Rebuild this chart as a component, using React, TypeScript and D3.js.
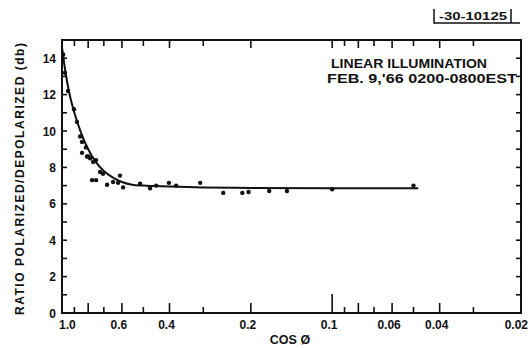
import { useEffect, useRef } from "react";
import * as d3 from "d3";

// measured points (cos phi, ratio in db)
const pointCos = [
  0.99, 0.975, 0.95, 0.903, 0.88, 0.857, 0.843, 0.843, 0.815, 0.808, 0.8, 0.787,
  0.767, 0.748, 0.723, 0.705, 0.774, 0.748, 0.681, 0.647, 0.62, 0.61, 0.594,
  0.514, 0.472, 0.448, 0.402, 0.378, 0.308, 0.253, 0.215, 0.204, 0.171, 0.147,
  0.1, 0.05,
];
const pointRatio = [
  14.2, 13.2, 12.2, 11.2, 10.5, 9.7, 9.4, 8.8, 9.1, 8.6, 8.6, 8.5,
  8.3, 8.4, 7.75, 7.65, 7.3, 7.3, 7.05, 7.2, 7.15, 7.55, 6.9,
  7.1, 6.85, 7.0, 7.15, 7.0, 7.15, 6.6, 6.6, 6.65, 6.7, 6.7,
  6.8, 7.0,
];

// fitted curve drawn through the points
const curveCos = [1.0, 0.97, 0.94, 0.9, 0.85, 0.8, 0.75, 0.7, 0.65, 0.6, 0.55, 0.5, 0.4, 0.3, 0.2, 0.1, 0.048];
const curveRatio = [14.6, 13.2, 12.1, 11.0, 9.9, 9.0, 8.3, 7.8, 7.45, 7.2, 7.05, 7.0, 6.95, 6.9, 6.87, 6.85, 6.85];

const yTickLabels = [0, 2, 4, 6, 8, 10, 12, 14];
const yMinorTicks = d3.range(0, 16);
const xTickLabels = ["1.0", "0.6", "0.4", "0.2", "0.1", "0.06", "0.04", "0.02"];
const xLabelValues = [1.0, 0.6, 0.4, 0.2, 0.1, 0.06, 0.04, 0.02];
const xTickValues = [0.9, 0.8, 0.7, 0.6, 0.5, 0.4, 0.3, 0.2, 0.1, 0.09, 0.08, 0.07, 0.06, 0.05, 0.04, 0.03];
const xLongTicks = [0.8, 0.6, 0.4, 0.2, 0.08, 0.06, 0.04];

const FONT = "'Liberation Sans', Arial, sans-serif";

export default function App() {
  const svgRef = useRef<SVGSVGElement>(null);
  const width = 530;
  const height = 348;

  useEffect(() => {
    const svg = d3.select(svgRef.current);
    svg.selectAll("*").remove();

    const left = 62;
    const right = 521;
    const top = 40;
    const bottom = 313;

    const x = d3.scaleLog().domain([1, 0.02]).range([left, right]);
    const y = d3.scaleLinear().domain([0, 15]).range([bottom, top]);

    svg.append("rect").attr("width", width).attr("height", height).attr("fill", "#fff");

    // frame
    svg
      .append("rect")
      .attr("x", left)
      .attr("y", top)
      .attr("width", right - left)
      .attr("height", bottom - top)
      .attr("fill", "none")
      .attr("stroke", "#111")
      .attr("stroke-width", 2);

    // y ticks, both sides, pointing in
    yMinorTicks.forEach((v) => {
      if (v === 0 || v === 15) return;
      svg.append("line")
        .attr("x1", left).attr("x2", left + 5)
        .attr("y1", y(v)).attr("y2", y(v))
        .attr("stroke", "#111").attr("stroke-width", 1.6);
      svg.append("line")
        .attr("x1", right).attr("x2", right - 5)
        .attr("y1", y(v)).attr("y2", y(v))
        .attr("stroke", "#111").attr("stroke-width", 1.6);
    });

    // x ticks, bottom and top
    xTickValues.forEach((v) => {
      const len = v === 0.1 ? 19 : xLongTicks.includes(v) ? 10 : 6;
      svg.append("line")
        .attr("x1", x(v)).attr("x2", x(v))
        .attr("y1", bottom).attr("y2", bottom - len)
        .attr("stroke", "#111").attr("stroke-width", 1.6);
      svg.append("line")
        .attr("x1", x(v)).attr("x2", x(v))
        .attr("y1", top).attr("y2", top + (xLongTicks.includes(v) || v === 0.1 ? 8 : 6))
        .attr("stroke", "#111").attr("stroke-width", 1.6);
    });

    // tick labels
    svg.append("g")
      .selectAll("text")
      .data(yTickLabels)
      .join("text")
      .attr("x", 56)
      .attr("y", (d) => y(d) + 4.5)
      .attr("text-anchor", "end")
      .attr("font-family", FONT)
      .attr("font-weight", "bold")
      .attr("font-size", 12)
      .attr("fill", "#111")
      .text((d) => d);

    svg.append("g")
      .selectAll("text")
      .data(xLabelValues)
      .join("text")
      .attr("x", (d) => (d === 1 ? x(d) - 3 : d === 0.02 ? 528 : x(d) - 3))
      .attr("y", 329)
      .attr("text-anchor", (d) => (d === 1 ? "start" : d === 0.02 ? "end" : "middle"))
      .attr("font-family", FONT)
      .attr("font-weight", "bold")
      .attr("font-size", 12)
      .attr("fill", "#111")
      .text((d, i) => xTickLabels[i]);

    // fitted curve
    const curve = curveCos.map((c, i) => [c, curveRatio[i]] as [number, number]);
    svg.append("path")
      .datum(curve)
      .attr("fill", "none")
      .attr("stroke", "#111")
      .attr("stroke-width", 2)
      .attr("d", d3.line<[number, number]>()
        .x((d) => x(d[0]))
        .y((d) => y(d[1]))
        .curve(d3.curveMonotoneX));

    // measured points
    svg.append("g")
      .selectAll("circle")
      .data(pointCos.map((c, i) => [c, pointRatio[i]]))
      .join("circle")
      .attr("cx", (d) => x(d[0]))
      .attr("cy", (d) => y(d[1]))
      .attr("r", 2.2)
      .attr("fill", "#111");

    // axis titles
    svg.append("text")
      .attr("transform", "translate(24,179) rotate(-90)")
      .attr("text-anchor", "middle")
      .attr("font-family", FONT)
      .attr("font-weight", "bold")
      .attr("font-size", 12)
      .attr("textLength", 272)
      .attr("lengthAdjust", "spacing")
      .attr("fill", "#111")
      .text("RATIO POLARIZED/DEPOLARIZED (db)");

    svg.append("text")
      .attr("x", 290)
      .attr("y", 344)
      .attr("text-anchor", "middle")
      .attr("font-family", FONT)
      .attr("font-weight", "bold")
      .attr("font-size", 12.5)
      .attr("fill", "#111")
      .text("COS  Ø");

    // annotation
    svg.append("text")
      .attr("x", 331)
      .attr("y", 68)
      .attr("font-family", FONT)
      .attr("font-weight", "bold")
      .attr("font-size", 12)
      .attr("textLength", 156)
      .attr("lengthAdjust", "spacingAndGlyphs")
      .attr("fill", "#111")
      .text("LINEAR ILLUMINATION");

    svg.append("text")
      .attr("x", 327)
      .attr("y", 83)
      .attr("font-family", FONT)
      .attr("font-weight", "bold")
      .attr("font-size", 12)
      .attr("textLength", 190)
      .attr("lengthAdjust", "spacingAndGlyphs")
      .attr("fill", "#111")
      .text("FEB. 9,'66 0200-0800EST");

    // figure number box
    svg.append("path")
      .attr("d", "M434,9 V23 H520 M511,9 V23")
      .attr("fill", "none")
      .attr("stroke", "#111")
      .attr("stroke-width", 1.5);
    svg.append("text")
      .attr("x", 473)
      .attr("y", 20)
      .attr("text-anchor", "middle")
      .attr("font-family", FONT)
      .attr("font-weight", "bold")
      .attr("font-size", 10.5)
      .attr("textLength", 68)
      .attr("lengthAdjust", "spacingAndGlyphs")
      .attr("fill", "#111")
      .text("-30-10125");
  }, []);

  return (
    <svg
      ref={svgRef}
      width={width}
      height={height}
      style={{ position: "absolute", left: 0, top: 0 }}
    ></svg>
  );
}
